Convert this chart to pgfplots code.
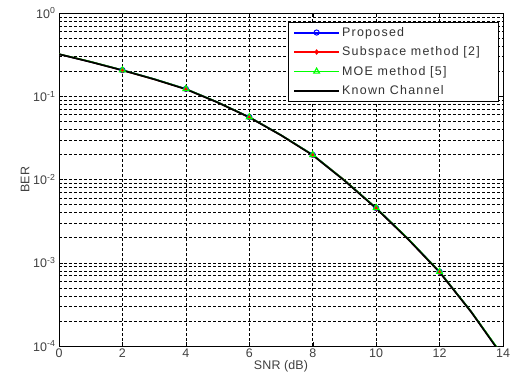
\documentclass[border=0pt]{standalone}
\usepackage{pgfplots}
\pgfplotsset{compat=1.18}
\usepackage{fontspec}
\setmainfont{Liberation Sans}[LetterSpace=1]
\newfontfamily\legfont{Liberation Sans}[LetterSpace=10]
\begin{document}
\begin{tikzpicture}[x=1bp,y=1bp]
\path (0,0) rectangle (516,387);
\begin{axis}[
  at={(59bp,41bp)}, anchor=south west,
  scale only axis, width=444bp, height=333bp,
  xmin=0, xmax=14, ymin=1e-4, ymax=1,
  ymode=log,
  xtick={0,2,...,14},
  ytick={1e-4,1e-3,1e-2,1e-1,1},
  yticklabels={10\textsuperscript{-4},10\textsuperscript{-3},10\textsuperscript{-2},10\textsuperscript{-1},10\textsuperscript{0}},
  /pgf/number format/assume math mode=true,
  tick align=inside,
  tick style={black, thin},
  minor tick length=0pt,
  major tick length=4bp,
  grid=both,
  major grid style={black, line width=0.5pt, dash pattern=on 3pt off 2pt},
  minor grid style={black, line width=0.5pt, dash pattern=on 3pt off 2pt},
  axis line style={black, line width=0.6pt},
  ticklabel style={font=\fontsize{12.5}{14}\selectfont, text=black!75},
  xticklabel style={yshift=1bp},
  xlabel={SNR (dB)}, ylabel={BER},
  label style={font=\fontsize{12.5}{14}\selectfont, text=black!75},
  xlabel style={yshift=4bp},
  ylabel style={yshift=-3bp},
  legend style={at={(0.991,0.973)}, anchor=north east, draw=black, fill=white, line width=0.6pt,
    font=\legfont\fontsize{12.5}{14}\selectfont, row sep=5pt, inner xsep=5pt, inner ysep=3pt,
    nodes={text=black!80}},
  legend cell align=left,
  legend image code/.code={
    \draw[#1, line width=2pt, mark=none] (0bp,0bp) -- (45bp,0bp);
    \draw[#1, only marks, mark indices={1}] plot coordinates {(22.5bp,0bp)};},
]
\addplot[blue, line width=1.5pt, mark=o, mark size=2.6pt, mark options={solid, line width=1pt}, mark indices={3,5,7,9,11,13}]
 coordinates {(0,0.320) (1,0.259) (2,0.206) (3,0.161) (4,0.1225) (5,0.0848) (6,0.0562) (7,0.0342) (8,0.0198) (9,0.0098) (10,0.00455) (11,0.00195) (12,0.00078) (13,0.000258) (14,0.000075)};
\addlegendentry{Proposed}
\addplot[red, line width=1.5pt, mark=diamond*, mark size=2.4pt, mark options={solid, line width=0.6pt}, mark indices={3,5,7,9,11,13}]
 coordinates {(0,0.320) (1,0.259) (2,0.205) (3,0.160) (4,0.122) (5,0.0845) (6,0.0560) (7,0.0341) (8,0.0197) (9,0.0098) (10,0.00453) (11,0.00194) (12,0.000775) (13,0.000257) (14,0.000075)};
\addlegendentry{Subspace method [2]\hspace*{12bp}}
\addplot[green, line width=1.5pt, mark=triangle, mark size=3.4pt, mark options={solid, line width=1.1pt}, mark indices={3,5,7,9,11,13}]
 coordinates {(0,0.321) (1,0.260) (2,0.206) (3,0.161) (4,0.1225) (5,0.0848) (6,0.0562) (7,0.0342) (8,0.0198) (9,0.0098) (10,0.00456) (11,0.00196) (12,0.00078) (13,0.000258) (14,0.000076)};
\addlegendentry{MOE method [5]}
\addplot[black, line width=1.7pt]
 coordinates {(0,0.320) (1,0.258) (2,0.205) (3,0.160) (4,0.1215) (5,0.0843) (6,0.0558) (7,0.0340) (8,0.0196) (9,0.0097) (10,0.00450) (11,0.00193) (12,0.000770) (13,0.000255) (14,0.000074)};
\addlegendentry{Known Channel}
\end{axis}
\end{tikzpicture}
\end{document}
